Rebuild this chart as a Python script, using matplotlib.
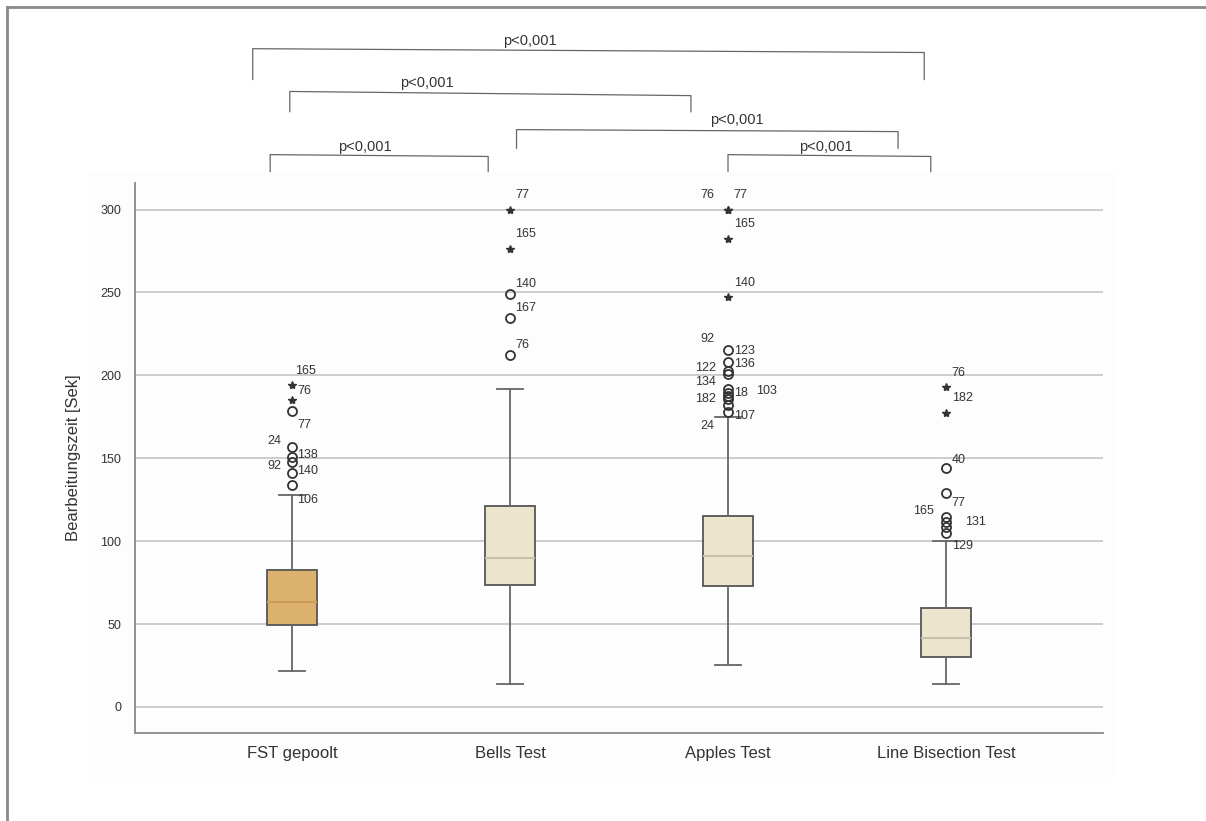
import numpy as np
import matplotlib
matplotlib.use('Agg')
import matplotlib.pyplot as plt
from matplotlib.patches import Rectangle
from matplotlib.lines import Line2D

plt.rcParams['font.family'] = ['Liberation Sans', 'DejaVu Sans']

# Data
groups = ['FST gepoolt', 'Bells Test', 'Apples Test', 'Line Bisection Test']
q1 = [49.5, 73.6, 73.0, 30.2]
median = [63.5, 90.0, 91.0, 41.6]
q3 = [82.5, 121.3, 115.3, 59.5]
whisker_lo = [21.7, 14.0, 25.3, 14.0]
whisker_hi = [128.0, 192.0, 175.0, 100.0]

# extreme values (stars) and outliers (circles) with case numbers
extreme_vals = [[194.0, 185.0], [300.0, 276.0], [300.0, 300.0, 282.0, 247.0], [193.0, 177.0]]
extreme_ids = [['165', '76'], ['77', '165'], ['76', '77', '165', '140'], ['76', '182']]
outlier_vals = [[178.6, 156.5, 151.0, 147.7, 141.4, 134.0],
                [249.0, 234.6, 212.4],
                [215.5, 208.0, 202.5, 201.0, 192.0, 189.5, 187.5, 185.5, 182.0, 178.0],
                [144.0, 129.0, 114.8, 111.8, 108.8, 104.8]]
outlier_ids = [['77', '24', '138', '92', '140', '106'],
               ['140', '167', '76'],
               ['92', '123', '122', '136', '134', '18', '182', '103', '107', '24'],
               ['40', '77', '165', '131', '', '129']]

# pairwise comparisons (group indices) and their p-value text
pairs = [(0, 3), (0, 2), (1, 3), (0, 1), (2, 3)]
p_text = ['p<0,001'] * 5

# label offsets in points (layout only)
extreme_off = [[(2, 6), (4, 2)], [(4, 6), (4, 7)], [(-20, 6), (4, 6), (4, 7), (4, 6)], [(4, 6), (4, 7)]]
outlier_off = [[(4, -10), (-18, 5), (4, 1), (-18, -3), (4, 1), (4, -11)],
               [(4, 7), (4, 7), (4, 7)],
               [(-20, 8), (4, 8), (-24, 2), (4, 7), (-24, 5), (4, 0), (-24, -2), (20, 6), (4, -8), (-20, -10)],
               [(4, 6), (4, -7), (-24, 4), (14, 0), (0, 0), (4, -9)]]

box_colors = ['#dcb26e', '#ece4cd', '#ece4cd', '#ece4cd']
median_colors = ['#c99c5a', '#c9bfae', '#c9bfae', '#c9bfae']
txt = '#333333'

fig = plt.figure(figsize=(12.06, 8.21), dpi=100)

# faint panel background and page border
fig.patches.append(Rectangle((88 / 1206, 1 - 778 / 821), (1115 - 88) / 1206, (778 - 172) / 821,
                             transform=fig.transFigure, facecolor='#fdfdfd', edgecolor='none', zorder=-10))
fig.add_artist(Line2D([7 / 1206, 1], [1 - 7 / 821] * 2, transform=fig.transFigure, color='#8a8a8a', lw=2))
fig.add_artist(Line2D([7 / 1206] * 2, [0, 1 - 7 / 821], transform=fig.transFigure, color='#8a8a8a', lw=2))

ax = fig.add_axes([135 / 1206, 1 - 733 / 821, (1103 - 135) / 1206, (733 - 183) / 821])
ax.set_facecolor('none')

x = np.arange(len(groups))
stats = []
for i in range(len(groups)):
    stats.append(dict(med=median[i], q1=q1[i], q3=q3[i], whislo=whisker_lo[i],
                      whishi=whisker_hi[i], fliers=[], label=groups[i]))

bp = ax.bxp(stats, positions=x, widths=0.23, patch_artist=True, showfliers=False,
            capwidths=0.12,
            boxprops=dict(edgecolor='#555555', linewidth=1.3),
            whiskerprops=dict(color='#666666', linewidth=1.3),
            capprops=dict(color='#666666', linewidth=1.3),
            medianprops=dict(linewidth=1.5), zorder=3)
for patch, c in zip(bp['boxes'], box_colors):
    patch.set_facecolor(c)
for med, c in zip(bp['medians'], median_colors):
    med.set_color(c)

for i in range(len(groups)):
    for v, lab, off in zip(extreme_vals[i], extreme_ids[i], extreme_off[i]):
        ax.plot(x[i], v, marker='*', ms=6, color='#333333', ls='none', zorder=4)
        ax.annotate(lab, (x[i], v), xytext=off, textcoords='offset points',
                    fontsize=9, color=txt, va='bottom', ha='left')
    for v, lab, off in zip(outlier_vals[i], outlier_ids[i], outlier_off[i]):
        ax.plot(x[i], v, marker='o', ms=6.5, mfc='none', mec='#333333', mew=1.3, ls='none', zorder=4)
        if lab:
            ax.annotate(lab, (x[i], v), xytext=off, textcoords='offset points',
                        fontsize=9, color=txt, va='center', ha='left')

ax.set_xlim(-0.72, 3.72)
ax.set_ylim(-15.7, 316)
ax.set_yticks(np.arange(0, 301, 50))
ax.yaxis.grid(True, color='#c8c8c8', linewidth=1.3, zorder=0)
ax.set_axisbelow(True)
ax.set_xticks(x)
ax.set_xticklabels(groups, fontsize=12, color=txt)
ax.tick_params(axis='x', length=0, pad=9)
ax.tick_params(axis='y', length=0, pad=10, labelsize=9, labelcolor=txt)
for s in ['top', 'right']:
    ax.spines[s].set_visible(False)
for s in ['left', 'bottom']:
    ax.spines[s].set_color('#888888')
    ax.spines[s].set_linewidth(1.3)
ax.set_ylabel('Bearbeitungszeit [Sek]', fontsize=12, color=txt, labelpad=14)

# significance brackets (layout: x ends, left/right heights, drop, label pos)
brackets = [(-0.18, 2.90, 397.0, 394.7, 378.4, 1.09, 401.5),
            (-0.01, 1.83, 371.2, 368.7, 359.0, 0.62, 376.6),
            (1.03, 2.78, 348.2, 347.0, 337.0, 2.04, 353.7),
            (-0.10, 0.90, 333.1, 332.0, 322.9, 0.335, 337.6),
            (2.00, 2.93, 333.1, 332.0, 322.9, 2.45, 338.0)]
for (a, b), pt, (x0, x1, yl, yr, yd, tx, ty) in zip(pairs, p_text, brackets):
    ax.plot([x0, x0, x1, x1], [yd, yl, yr, yd], color='#666666', lw=0.9, clip_on=False)
    ax.text(tx, ty, pt, fontsize=10.5, color=txt, ha='center', va='center', clip_on=False)

fig.savefig('out.png', dpi=100)
